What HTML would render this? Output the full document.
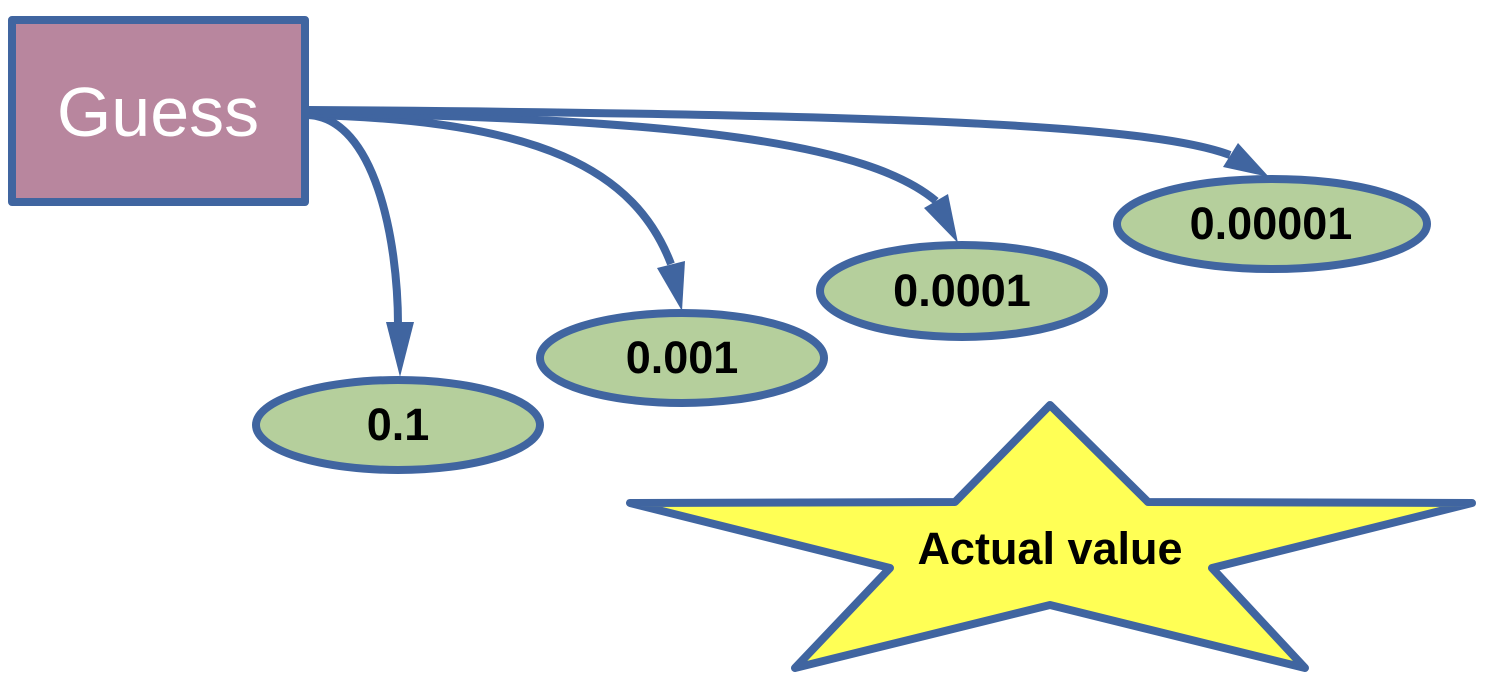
<!DOCTYPE html>
<html><head><style>html,body{margin:0;padding:0;background:#fff;width:1494px;height:696px;overflow:hidden}</style></head>
<body>
<svg width="1494" height="696" xmlns="http://www.w3.org/2000/svg">
<g fill="none" stroke="#4065a0" stroke-width="8">
<path d="M308,115 C375,118 398,240 398,325"/>
<path d="M308,115 C540,120 635,170 671,264"/>
<path d="M308,113 C690,118 870,145 936,201"/>
<path d="M308,110 C900,114 1150,125 1230,155"/>
</g>
<g fill="#4065a0">
<polygon points="386,322 414,322 400,377"/>
<polygon points="657,268 685,261 682,311"/>
<polygon points="924,208 948,194 958,243"/>
<polygon points="1223,167 1238,143 1269,177"/>
</g>
<rect x="12" y="20" width="293" height="182" fill="#b8869e" stroke="#4065a0" stroke-width="8" stroke-linejoin="round"/>
<text x="158" y="136" font-family="Liberation Sans, sans-serif" font-size="70" fill="#fff" text-anchor="middle">Guess</text>
<g font-family="Liberation Sans, sans-serif" font-size="45" font-weight="bold" fill="#000" text-anchor="middle">
<g fill="#b5cf9c" stroke="#4065a0" stroke-width="8">
<ellipse cx="398" cy="425" rx="142" ry="45"/>
<ellipse cx="682" cy="358" rx="142" ry="45"/>
<ellipse cx="962" cy="291" rx="142" ry="46"/>
<ellipse cx="1272" cy="224" rx="155" ry="45"/>
</g>
<text x="398" y="440">0.1</text>
<text x="682" y="373">0.001</text>
<text x="962" y="306">0.0001</text>
<text x="1271" y="239">0.00001</text>
</g>
<polygon points="1050,405 1148,502 1472,503 1212,568 1305,668 1050,605 795,668 890,568 630,503 955,502" fill="#ffff55" stroke="#4065a0" stroke-width="8" stroke-linejoin="round"/>
<text x="1050" y="564" font-family="Liberation Sans, sans-serif" font-size="45" font-weight="bold" fill="#000" text-anchor="middle">Actual value</text>
</svg>
</body></html>
